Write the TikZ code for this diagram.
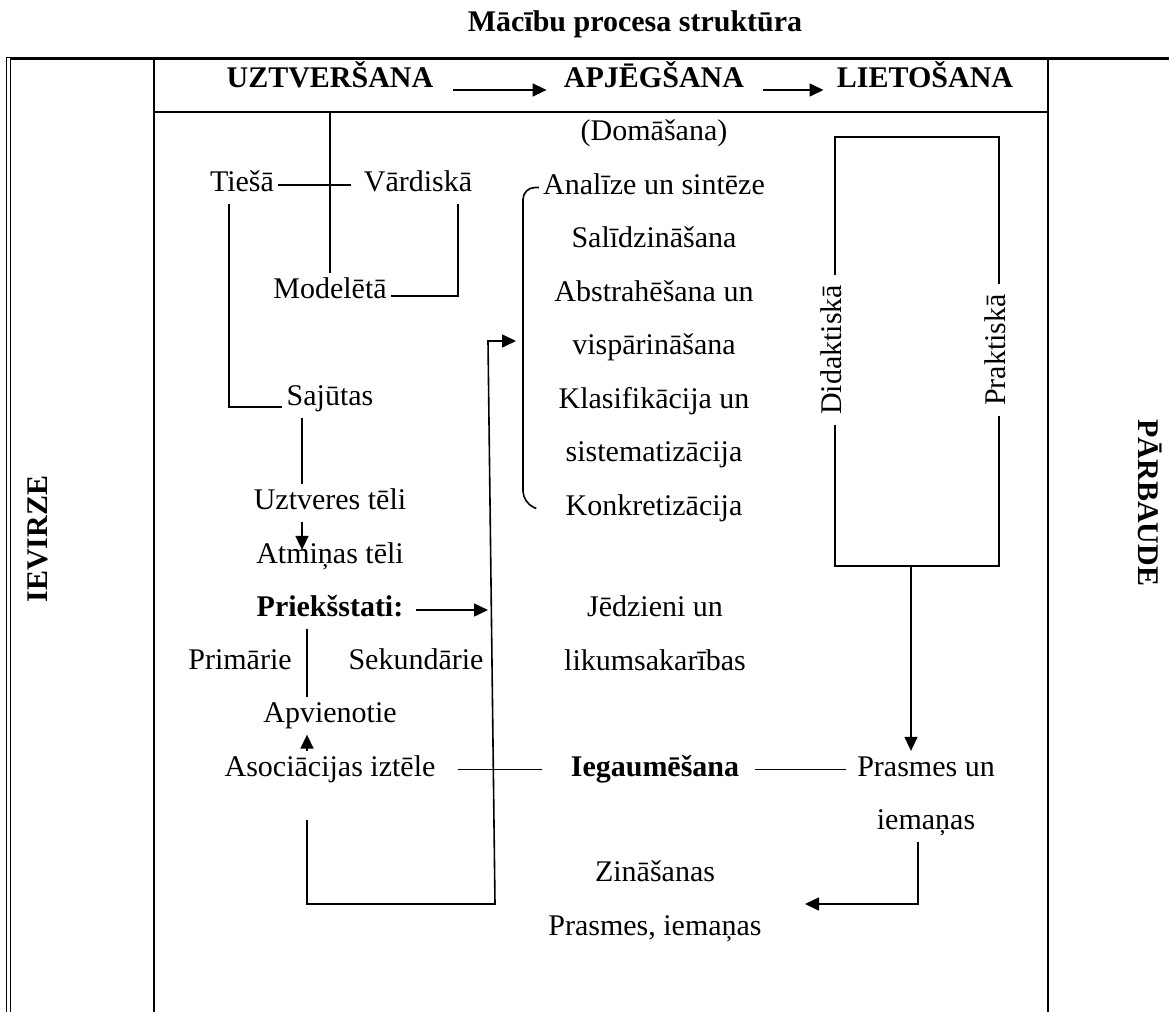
\documentclass[tikz,border=0pt]{standalone}
\usepackage{fontspec}
\setmainfont{Liberation Serif}
\usetikzlibrary{positioning, arrows.meta, calc}

\begin{document}
\begin{tikzpicture}[x=0.5pt, y=-0.5pt, node distance=8.1pt,
        txt/.style={font=\fontsize{15}{18}\selectfont, inner sep=2pt, text height=10.5pt, text depth=3.75pt},
        hdr/.style={txt, font=\fontsize{15}{18}\selectfont\bfseries},
        ln/.style={line width=0.8pt},
        arr/.style={ln, -{Triangle[length=7pt, width=6.5pt]}}]

            \useasboundingbox (0,0) rectangle (1169,1012);

            % table frame
            \draw [line width=1.5pt] (6,58) -- (1169,58);
            \draw [double, double distance=1.4pt, line width=0.5pt] (8.5,58) -- (8.5,1012);
            \draw [line width=1pt] (154,58) -- (154,1012);
            \draw [line width=1pt] (1048,58) -- (1048,1012);
            \draw [line width=1pt] (154,112) -- (1048,112);

            \node [hdr] (title) at (635,25) {Mācību procesa struktūra};
            \node [hdr] (uztv) at (330,81) {UZTVERŠANA};
            \node [hdr] (apjeg) at (654,81) {APJĒGŠANA};
            \node [hdr] (lieto) at (925,81) {LIETOŠANA};
            \node [hdr, rotate=90] (ievirze) at (41,539) {IEVIRZE};
            \node [hdr, rotate=-90] (parbaude) at (1145,503) {PĀRBAUDE};

            % left column
            \node [txt] (tiesa) at (242,185) {Tiešā};
            \node [txt] (vard) at (418,185) {Vārdiskā};
            \node [txt] (model) at (330,292) {Modelētā};
            \node [txt] (sajutas) at (330,399) {Sajūtas};
            \node [txt] (uzt) at (330,503) {Uztveres tēli};
            \node [txt, below=of uzt] (atm) {Atmiņas tēli};
            \node [hdr, below=of atm] (prieks) {Priekšstati:};
            \node [txt] (prim) at (240,663) {Primārie};
            \node [txt] (sek) at (416,663) {Sekundārie};
            \node [txt] (apv) at (330,716) {Apvienotie};
            \node [txt, below=of apv] (asoc) {Asociācijas iztēle};

            % middle column
            \node [txt] (doma) at (654,134) {(Domāšana)};
            \node [txt, below=of doma] (an) {Analīze un sintēze};
            \node [txt, below=of an] (sal) {Salīdzināšana};
            \node [txt, below=of sal] (abs) {Abstrahēšana un};
            \node [txt, below=of abs] (visp) {vispārināšana};
            \node [txt, below=of visp] (klas) {Klasifikācija un};
            \node [txt, below=of klas] (sist) {sistematizācija};
            \node [txt, below=of sist] (konk) {Konkretizācija};
            \node [txt] (jedz) at (655,610) {Jēdzieni un};
            \node [txt, below=of jedz] (likum) {likumsakarības};
            \node [hdr] (iegaum) at (asoc -| 655,0) {Iegaumēšana};
            \node [txt] (zin) at (655,875) {Zināšanas};
            \node [txt, below=of zin] (prasm) {Prasmes, iemaņas};

            % right column
            \node [txt, rotate=90, inner sep=5pt] (did) at (835,350) {Didaktiskā};
            \node [txt, rotate=90, inner sep=5pt] (prak) at (999,350) {Praktiskā};
            \node [txt] (prun) at (asoc -| 926,0) {Prasmes un};
            \node [txt, below=of prun] (iem) {iemaņas};

            \coordinate (sepU) at (330,112);
            \coordinate (boxT) at (911,137);
            \coordinate (boxB) at (911,566);
            \coordinate (loopA) at (495,904);
            \coordinate (loopB) at (488,341);
            \coordinate (brk) at (523,503);
            \coordinate (backEnd) at (805,904);

            \draw [arr] ($(uztv.east)+(15,9)$) -- ($(apjeg.west)+(-13,9)$);
            \draw [arr] ($(apjeg.east)+(15,9)$) -- ($(lieto.west)+(-9,9)$);

            \draw [ln] (sepU) -- (model.north);
            \draw [ln] (tiesa.east) -- ([xshift=-4pt]vard.west);
            \draw [ln] ([xshift=-6.5pt]tiesa.south) |- ([yshift=-4pt]sajutas.west);
            \draw [ln] ([xshift=20pt]vard.south) |- ([yshift=-2pt]model.east);
            \draw [ln] ([xshift=-14pt]sajutas.south) -- ([xshift=-14pt]uzt.north);
            \draw [arr] ([xshift=-14pt]uzt.south) -- ([xshift=-14pt, yshift=-6pt]atm.north);
            \draw [arr] ([xshift=4pt]prieks.east) -- (prieks.east -| loopB);
            \draw [ln] ([xshift=-11.5pt]prieks.south) -- ([xshift=-11.5pt]apv.north);
            \draw [arr] ([xshift=-11.5pt]asoc.north) -- ([xshift=-11.5pt]apv.south);
            \draw [ln, shorten <=9pt, shorten >=12pt] (asoc.east) -- (iegaum.west);
            \draw [ln, shorten <=5.5pt, shorten >=3.5pt] (iegaum.east) -- (prun.west);
            \draw [arr, shorten >=3.5pt]
                ([xshift=-11.5pt, yshift=-16pt]asoc.south) |- (loopA) -- (loopB) -- (loopB -| brk);
            \draw [ln, rounded corners=6pt] (an.west) -| (brk) -- ([xshift=-12.5pt]konk.west);

            \draw [ln] (did.east) |- (boxT) -| (prak.east);
            \draw [ln] (did.west) |- (boxB) -| (prak.west);
            \draw [arr] (boxB) -- (boxB |- prun.north);
            \draw [arr] ([xshift=-4pt]iem.south) |- (backEnd);

        \end{tikzpicture}
\end{document}
